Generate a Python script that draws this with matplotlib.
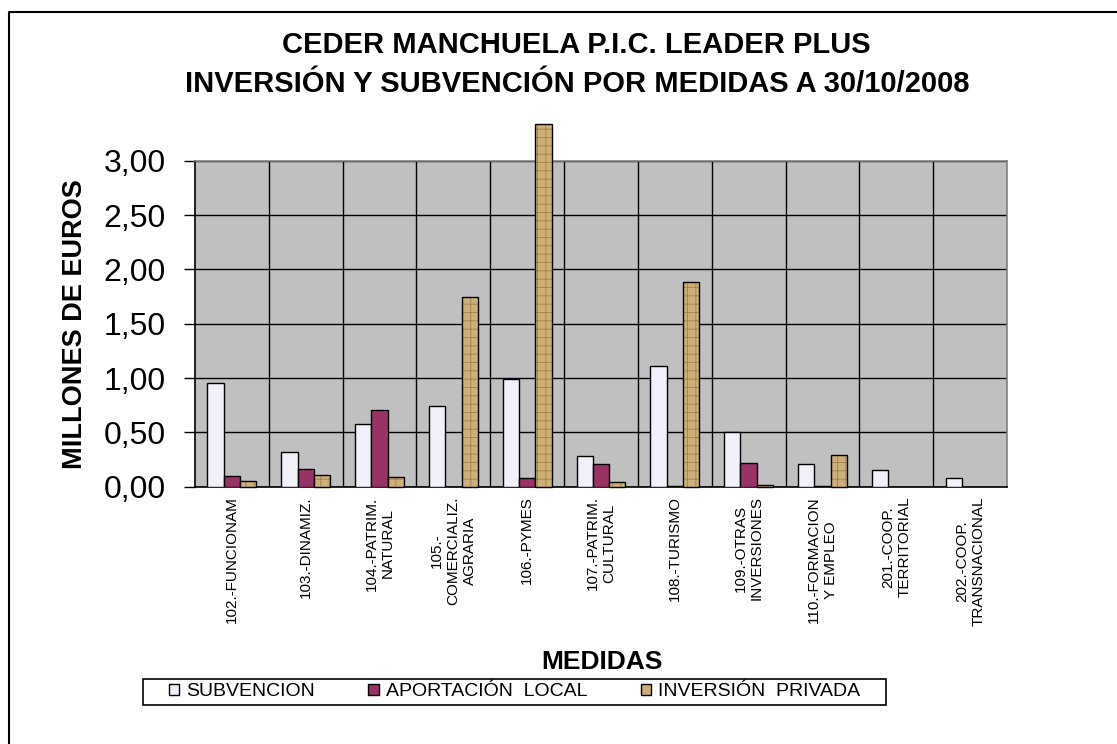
#!/usr/bin/env python3
"""
Bar chart: CEDER Manchuela P.I.C. Leader Plus, inversion y subvencion por medidas.
Writes out.png (1117x744).
"""
import matplotlib
matplotlib.use("Agg")
import matplotlib.pyplot as plt
from matplotlib.patches import Patch, Rectangle
from matplotlib.lines import Line2D


MEDIDAS = [
    "102.-FUNCIONAM",
    "103.-DINAMIZ.",
    "104.-PATRIM.\nNATURAL",
    "105.-\nCOMERCIALIZ.\nAGRARIA",
    "106.-PYMES",
    "107.-PATRIM.\nCULTURAL",
    "108.-TURISMO",
    "109.-OTRAS\nINVERSIONES",
    "110.-FORMACION\nY EMPLEO",
    "201.-COOP.\nTERRITORIAL",
    "202.-COOP.\nTRANSNACIONAL",
]

# millones de euros
SUBVENCION = [0.95, 0.32, 0.58, 0.74, 0.99, 0.28, 1.11, 0.50, 0.21, 0.15, 0.08]
APORTACION_LOCAL = [0.10, 0.16, 0.71, 0.00, 0.08, 0.21, 0.01, 0.22, 0.01, 0.00, 0.00]
INVERSION_PRIVADA = [0.05, 0.11, 0.09, 1.75, 3.34, 0.04, 1.88, 0.02, 0.29, 0.00, 0.00]

SERIES_NAMES = ["SUBVENCION", "APORTACIÓN  LOCAL", "INVERSIÓN  PRIVADA"]

Y_TICKS = [0.0, 0.5, 1.0, 1.5, 2.0, 2.5, 3.0]
Y_TICK_LABELS = ["0,00", "0,50", "1,00", "1,50", "2,00", "2,50", "3,00"]

TITLE_1 = "CEDER MANCHUELA P.I.C. LEADER PLUS"
TITLE_2 = "INVERSIÓN Y SUBVENCIÓN POR MEDIDAS A 30/10/2008"

FONT = "Liberation Sans"
W, H = 1117, 744
C_SUBV = "#F1F1FA"
C_APORT = "#993366"
C_INV = "#CDB077"
C_INV_HATCH = "#A0824A"
BAR_W = 0.221


def fx(px):
    return px / W


def fy(py):
    return 1 - py / H


def outline(values, color="black"):
    # Excel draws nothing for zero values, so no outline either
    return [color if v > 0 else "none" for v in values]


def draw_bars(ax):
    x = list(range(len(MEDIDAS)))
    xs = [i - BAR_W for i in x]
    ax.bar(xs, SUBVENCION, BAR_W, color=C_SUBV, edgecolor=outline(SUBVENCION), linewidth=1, zorder=3)
    ax.bar(x, APORTACION_LOCAL, BAR_W, color=C_APORT, edgecolor=outline(APORTACION_LOCAL),
           linewidth=1, zorder=3)
    xi = [i + BAR_W for i in x]
    # textured fill first (hatch takes the edge colour), then black outline
    ax.bar(xi, INVERSION_PRIVADA, BAR_W, color=C_INV, edgecolor=C_INV_HATCH, linewidth=0,
           hatch="++", zorder=3, clip_on=False)
    ax.bar(xi, INVERSION_PRIVADA, BAR_W, fill=False, edgecolor=outline(INVERSION_PRIVADA),
           linewidth=1, zorder=4, clip_on=False)


def style_axes(ax):
    ax.set_facecolor("#C0C0C0")
    ax.set_xlim(-0.5, len(MEDIDAS) - 0.5)
    ax.set_ylim(0, 3.0)
    ax.set_yticks(Y_TICKS)
    ax.set_yticklabels(Y_TICK_LABELS, fontsize=23, family=FONT)
    ax.set_xticks(range(len(MEDIDAS)))
    ax.set_xticklabels(MEDIDAS, rotation=90, ha="center", va="top", multialignment="center",
                       fontsize=11, family=FONT)
    ax.set_xticks([i + 0.5 for i in range(len(MEDIDAS) - 1)], minor=True)
    ax.tick_params(axis="x", which="both", length=0, pad=7)
    ax.tick_params(axis="y", length=8, width=1, pad=13, direction="out")
    ax.grid(axis="y", which="major", color="black", linewidth=1, zorder=1)
    ax.grid(axis="x", which="minor", color="black", linewidth=1, zorder=1)
    ax.set_axisbelow(True)
    for side in ("left", "bottom"):
        ax.spines[side].set_color("black")
        ax.spines[side].set_linewidth(1.2)
    for side in ("top", "right"):
        ax.spines[side].set_color("#808080")
        ax.spines[side].set_linewidth(1.2)


def add_texts(fig):
    fig.text(fx(576), fy(53), TITLE_1, ha="center", va="baseline", fontsize=21,
             fontweight="bold", family=FONT)
    fig.text(fx(577), fy(91.5), TITLE_2, ha="center", va="baseline", fontsize=21,
             fontweight="bold", family=FONT)
    fig.text(fx(81.5), fy(324), "MILLONES DE EUROS", rotation=90, rotation_mode="anchor",
             ha="center", va="baseline", fontsize=19.5, fontweight="bold", family=FONT)
    fig.text(fx(601.5), fy(669), "MEDIDAS", ha="center", va="baseline", fontsize=19,
             fontweight="bold", family=FONT)


def add_legend(fig, ax):
    handles = [
        Patch(facecolor=C_SUBV, edgecolor="black", linewidth=1),
        Patch(facecolor=C_APORT, edgecolor="black", linewidth=1),
        Patch(facecolor=C_INV, edgecolor="black", linewidth=1),
    ]
    ax.legend(handles, SERIES_NAMES, ncol=3, loc="center",
              bbox_to_anchor=(fx(514.5), fy(692)), bbox_transform=fig.transFigure,
              frameon=False, prop={"family": FONT, "size": 14},
              handlelength=0.55, handleheight=0.55, handletextpad=0.35,
              columnspacing=2.75, borderpad=0.1)
    fig.patches.append(Rectangle((fx(143), fy(705)), fx(886) - fx(143), fy(679) - fy(705),
                                 transform=fig.transFigure, fill=False,
                                 edgecolor="black", linewidth=1.2))


def add_border(fig):
    fig.add_artist(Line2D([fx(9), fx(9), 1.0], [0.0, fy(12), fy(12)],
                          transform=fig.transFigure, color="black", linewidth=1.5))


def main():
    plt.rcParams["hatch.linewidth"] = 0.6
    fig = plt.figure(figsize=(W / 100, H / 100), dpi=100)
    ax = fig.add_axes([fx(195), fy(486.7), fx(1007) - fx(195), fy(160.7) - fy(486.7)])
    draw_bars(ax)
    style_axes(ax)
    add_texts(fig)
    add_legend(fig, ax)
    add_border(fig)
    fig.savefig("out.png", dpi=100)
    plt.close(fig)


if __name__ == "__main__":
    main()
